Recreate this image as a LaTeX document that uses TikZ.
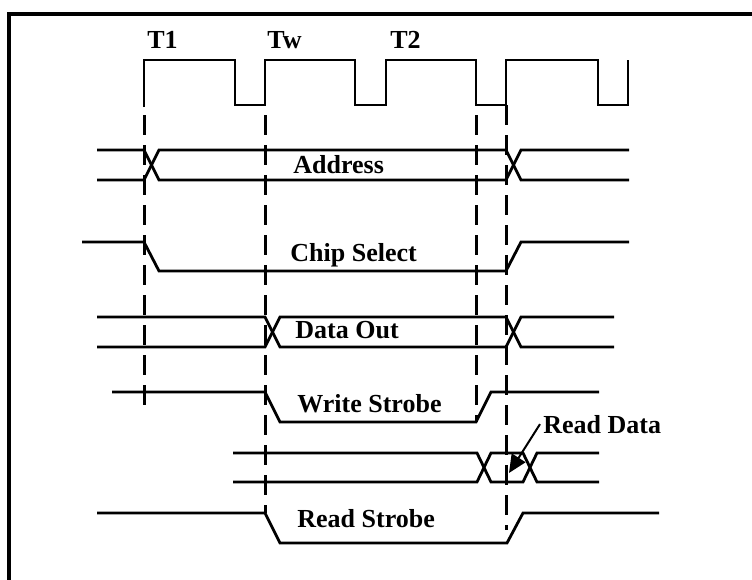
\documentclass[tikz,border=0pt]{standalone}
\usepackage{fontspec}
\setmainfont{Liberation Serif}
\usetikzlibrary{arrows.meta}
\begin{document}
\begin{tikzpicture}[x=.5pt, y=-.5pt,
		sig/.style={line width=1.4pt},
		guide/.style={line width=1.5pt, dash pattern=on 10pt off 5pt},
		lbl/.style={anchor=base west, inner sep=0pt, font=\bfseries\fontsize{13}{15}\selectfont}]
	\useasboundingbox (0,0) rectangle (752,580) ;
	\draw[line width=1.6pt] (9,580) -- (9,14) -- (752,14) ;
		\node (t1)[lbl] at (147, 48) {T1} ; 
		\node (tw)[lbl] at (267, 48) {Tw} ; 
		\node (t2)[lbl] at (390, 48) {T2} ; 
		\node (addr)[lbl] at (293, 173) {Address} ; 
		\node (cs)[lbl] at (290, 261) {Chip Select} ; 
		\node (dout)[lbl] at (295, 338) {Data Out} ; 
		\node (wr)[lbl] at (297, 412) {Write Strobe} ; 
		\node (rdlbl)[lbl] at (543, 433) {Read Data} ; 
		\node (rd)[lbl] at (297, 527) {Read Strobe} ; 
		\coordinate (rdtip) at (509, 473) ;
	\draw[sig] (144,107) -- (144,60) -- (235,60) -- (235,105) -- (265,105) -- (265,60) -- (355,60) -- (355,105) -- (386,105) -- (386,60) -- (476,60) -- (476,105) -- (506,105) -- (506,60) -- (598,60) -- (598,105) -- (628,105) -- (628,60) ;
	\draw[guide] (144,115) -- (144,409) ;
	\draw[guide] (265,115) -- (265,513) ;
	\draw[guide] (476,115) -- (476,422) ;
	\draw[guide] (506,105) -- (506,530) ;
	\draw[sig] (97,150) -- (144,150) -- (159,180) -- (506,180) -- (521,150) -- (629,150) ;
	\draw[sig] (97,180) -- (144,180) -- (159,150) -- (506,150) -- (521,180) -- (629,180) ;
	\draw[sig] (82,242) -- (144,242) -- (159,271) -- (506,271) -- (521,242) -- (629,242) ;
	\draw[sig] (97,317) -- (265,317) -- (280,347) -- (506,347) -- (521,317) -- (614,317) ;
	\draw[sig] (97,347) -- (265,347) -- (280,317) -- (506,317) -- (521,347) -- (614,347) ;
	\draw[sig] (112,392) -- (265,392) -- (280,422) -- (476,422) -- (491,392) -- (599,392) ;
	\draw[sig] (233,453) -- (477,453) -- (491,482) -- (523,482) -- (537,453) -- (599,453) ;
	\draw[sig] (233,482) -- (477,482) -- (491,453) -- (523,453) -- (537,482) -- (599,482) ;
	\draw[sig] (97,513) -- (265,513) -- (280,543) -- (507,543) -- (523,513) -- (659,513) ;
	\draw[line width=1pt, -{Triangle[length=9pt, width=8pt]}] ([xshift=-1.5pt]rdlbl.west) -- (rdtip) ;
\end{tikzpicture}
\end{document}
